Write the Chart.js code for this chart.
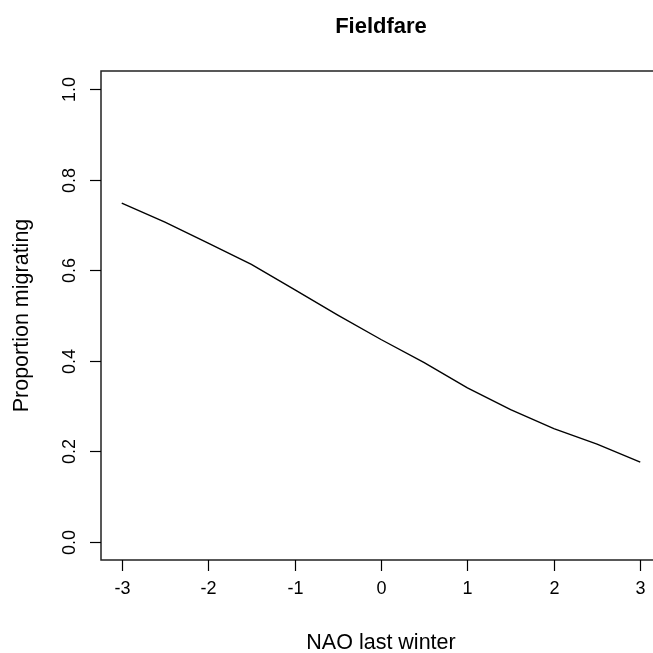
<!DOCTYPE html>
<html>
<head>
<meta charset="utf-8">
<title>Fieldfare</title>
<script src="https://cdn.jsdelivr.net/npm/chart.js@4"></script>
<style>
    html, body { margin: 0; padding: 0; background: #fff; overflow: hidden; }
    #wrap { width: 653px; height: 653px; overflow: hidden; position: relative; }
    #chart { display: block; }
</style>
</head>
<body>
<div id="wrap"><canvas id="chart" width="670" height="653"></canvas></div>
<script>
// data
const naoValues = [-3, -2.5, -2, -1.5, -1, -0.5, 0, 0.5, 1, 1.5, 2, 2.5, 3];
const proportionMigrating = [0.748, 0.706, 0.660, 0.613, 0.557, 0.501, 0.447, 0.396, 0.340, 0.292, 0.250, 0.216, 0.176];

const xTicks = [-3, -2, -1, 0, 1, 2, 3];
const yTicks = [0, 0.2, 0.4, 0.6, 0.8, 1.0];
const yTickLabels = ["0.0", "0.2", "0.4", "0.6", "0.8", "1.0"];

const titleText = "Fieldfare";
const xLabel = "NAO last winter";
const yLabel = "Proportion migrating";

const FONT = "'Liberation Sans', Arial, Helvetica, sans-serif";

// draws the R style box, axes ticks and texts
const rAxesPlugin = {
    id: "rAxes",
    afterDraw(chart) {
        const { ctx, chartArea, scales } = chart;
        const xs = scales.x, ys = scales.y;
        ctx.save();

        // box (the right side falls outside the picture)
        ctx.strokeStyle = "#222";
        ctx.lineWidth = 1.5;
        ctx.beginPath();
        ctx.moveTo(chart.width, chartArea.top);
        ctx.lineTo(chartArea.left, chartArea.top);
        ctx.lineTo(chartArea.left, chartArea.bottom);
        ctx.lineTo(chart.width, chartArea.bottom);
        ctx.stroke();

        ctx.strokeStyle = "#000";
        ctx.lineWidth = 1.2;
        ctx.fillStyle = "#000";

        // x ticks
        ctx.font = "18px " + FONT;
        ctx.textAlign = "center";
        ctx.textBaseline = "alphabetic";
        xTicks.forEach(v => {
            const px = Math.round(xs.getPixelForValue(v)) + 0.5;
            ctx.beginPath();
            ctx.moveTo(px, chartArea.bottom);
            ctx.lineTo(px, chartArea.bottom + 11);
            ctx.stroke();
            ctx.fillText(String(v), px, 594);
        });

        // y ticks
        yTicks.forEach((v, i) => {
            const py = Math.round(ys.getPixelForValue(v)) + 0.5;
            ctx.beginPath();
            ctx.moveTo(chartArea.left, py);
            ctx.lineTo(chartArea.left - 11, py);
            ctx.stroke();
            ctx.save();
            ctx.translate(75, py);
            ctx.rotate(-Math.PI / 2);
            ctx.fillText(yTickLabels[i], 0, 0);
            ctx.restore();
        });

        const midX = xs.getPixelForValue(0);
        const midY = (chartArea.top + chartArea.bottom) / 2;

        // title
        ctx.font = "bold 22px " + FONT;
        ctx.fillText(titleText, midX, 33);

        // axis titles
        ctx.font = "21.5px " + FONT;
        ctx.fillText(xLabel, midX, 649);
        ctx.save();
        ctx.translate(28, midY);
        ctx.rotate(-Math.PI / 2);
        ctx.fillText(yLabel, 0, 0);
        ctx.restore();

        ctx.restore();
    }
};

function initChart() {
    const ctx = document.getElementById("chart").getContext("2d");
    new Chart(ctx, {
        type: "line",
        data: {
            datasets: [{
                data: naoValues.map((x, i) => ({ x: x, y: proportionMigrating[i] })),
                borderColor: "#000",
                borderWidth: 1.4,
                pointRadius: 0,
                tension: 0,
                fill: false,
            }]
        },
        options: {
            responsive: false,
            animation: false,
            devicePixelRatio: 1,
            layout: { padding: { left: 101, top: 71, right: 9, bottom: 93 } },
            plugins: {
                legend: { display: false },
                tooltip: { enabled: false },
                title: { display: false },
            },
            scales: {
                x: { type: "linear", min: -3.24, max: 3.24, display: false },
                y: { type: "linear", min: -0.04, max: 1.04, display: false },
            },
        },
        plugins: [rAxesPlugin],
    });
}

document.addEventListener("DOMContentLoaded", initChart);
</script>
</body>
</html>
